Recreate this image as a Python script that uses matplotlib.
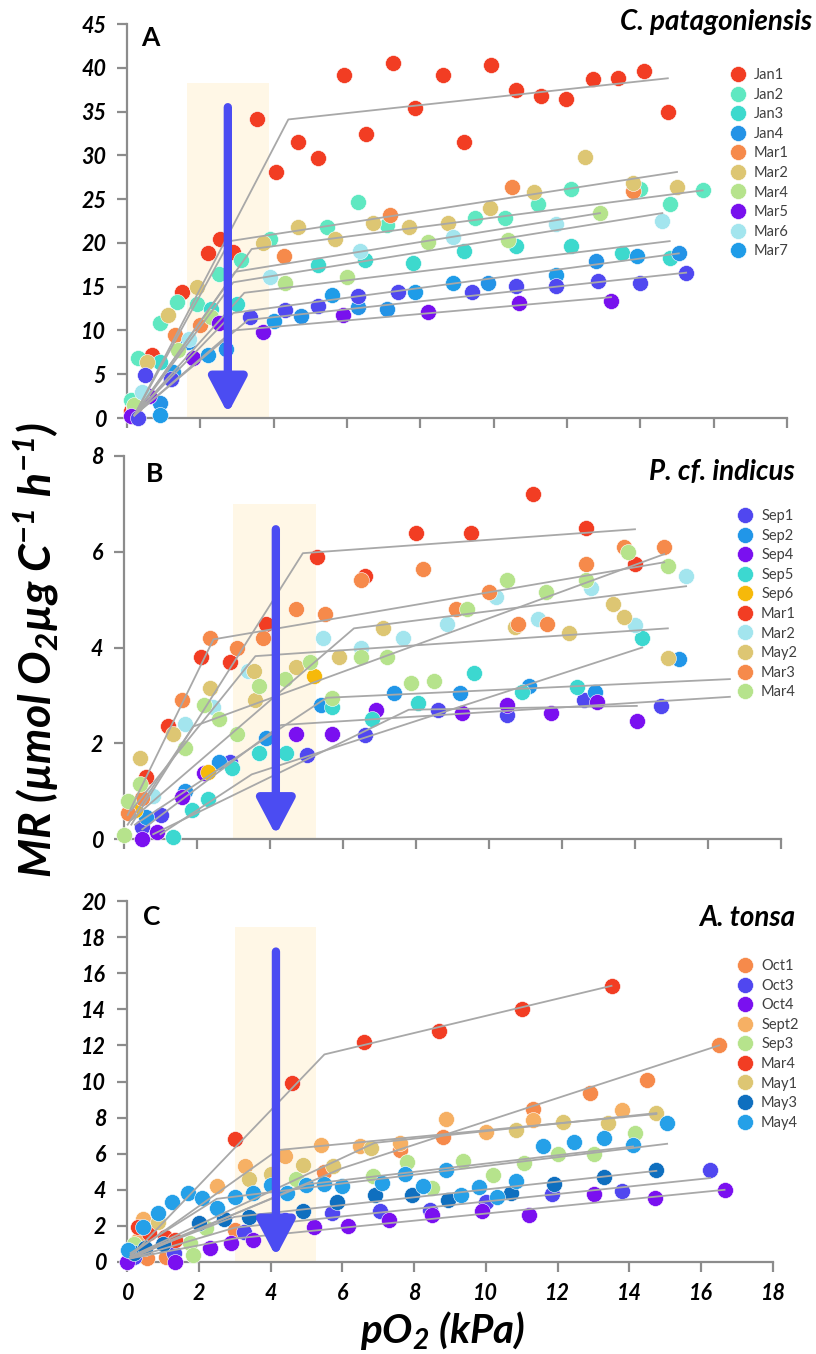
import numpy as np
import matplotlib
matplotlib.use('Agg')
import matplotlib.pyplot as plt

plt.rcParams['font.family'] = ['Lato', 'DejaVu Sans']
plt.rcParams['mathtext.fontset'] = 'custom'
plt.rcParams['mathtext.rm'] = 'Lato:bold:italic'
plt.rcParams['mathtext.it'] = 'Lato:bold:italic'
plt.rcParams['mathtext.bf'] = 'Lato:bold:italic'

# ---- panel A : C. patagoniensis ----
A_labels = ['Jan1', 'Jan2', 'Jan3', 'Jan4', 'Mar1', 'Mar2', 'Mar4', 'Mar5', 'Mar6', 'Mar7']
A_colors = ['#F23D23', '#5FE8C1', '#3DD9CD', '#2493E6', '#F68A4B', '#DDC673', '#B6E38C', '#7810EE', '#A3E5EE', '#1F9CE8']
A_x = [
    [0.1, 0.68, 1.5, 2.2, 2.54, 2.9, 3.54, 4.06, 4.66, 5.2, 5.92, 6.51, 7.26, 7.85, 8.62, 9.2, 9.93, 10.6, 11.3, 11.97, 12.7, 13.4, 14.1, 14.75],
    [0.1, 0.3, 0.9, 1.36, 1.9, 2.5, 3.1, 3.9, 5.45, 6.3, 7.1, 9.5, 10.3, 11.2, 12.1, 14.0, 14.8, 15.7],
    [0.2, 0.9, 2.3, 3.0, 5.2, 6.5, 7.8, 9.2, 10.6, 12.1, 13.5, 14.8],
    [0.9, 1.2, 1.67, 2.7, 4.75, 6.3, 7.1, 9.85, 12.8, 15.05],
    [0.2, 1.3, 2.0, 4.27, 7.17, 10.5, 13.8],
    [0.55, 1.13, 1.9, 3.7, 4.67, 5.67, 6.7, 7.7, 8.75, 9.9, 11.1, 12.5, 13.8, 15.0],
    [0.2, 1.4, 2.3, 4.3, 6.0, 8.2, 10.4, 12.9],
    [0.1, 0.6, 1.8, 2.5, 3.7, 5.9, 8.2, 10.7, 13.2],
    [0.4, 1.7, 3.9, 6.35, 8.9, 11.7, 14.6],
    [0.9, 1.25, 2.2, 4.0, 5.6, 7.85, 8.9, 11.7, 13.9],
]
A_y = [
    [0.8, 7.2, 14.4, 18.8, 20.5, 19.0, 34.2, 28.1, 31.5, 29.7, 39.2, 32.4, 40.6, 35.4, 39.2, 31.5, 40.3, 37.5, 36.8, 36.4, 38.7, 38.8, 39.6, 35.0],
    [2.0, 6.8, 10.8, 13.3, 13.0, 16.5, 18.0, 20.5, 21.8, 24.7, 22.0, 22.8, 22.8, 24.4, 26.1, 26.1, 24.4, 26.0],
    [1.2, 6.4, 12.5, 13.0, 17.5, 18.0, 17.7, 19.1, 19.6, 19.6, 18.9, 18.3],
    [1.7, 4.5, 8.7, 7.9, 11.7, 12.7, 12.4, 15.4, 17.9, 18.8],
    [1.0, 9.5, 10.6, 18.5, 23.2, 26.4, 25.9],
    [6.4, 11.8, 15.0, 20.0, 21.8, 20.4, 22.3, 21.8, 22.3, 24.0, 25.8, 29.8, 26.8, 26.4],
    [1.5, 7.8, 11.5, 15.4, 16.1, 20.1, 20.3, 23.4],
    [0.2, 2.5, 6.8, 10.8, 9.8, 11.8, 12.1, 13.1, 13.4],
    [3.0, 9.0, 16.1, 19.1, 20.7, 22.2, 22.5],
    [0.3, 5.3, 7.2, 11.1, 14.0, 14.4, 15.4, 16.3, 18.5],
]
# series plotted without a legend entry
A_extra_x = [0.3, 0.5, 1.2, 3.35, 4.3, 5.2, 6.3, 7.4, 9.4, 10.6, 11.7, 12.85, 14.0, 15.25]
A_extra_y = [0.0, 4.9, 4.5, 11.5, 12.3, 12.8, 13.9, 14.4, 14.4, 15.1, 15.1, 15.6, 15.4, 16.6]
A_fit_x = [[0.2, 4.4, 14.75], [0.2, 2.8, 15.0], [0.2, 3.4, 15.7], [0.2, 2.95, 12.9], [0.2, 2.9, 14.6],
           [0.2, 3.2, 14.8], [0.2, 2.9, 15.05], [0.2, 3.3, 15.25], [0.2, 2.9, 13.2]]
A_fit_y = [[0.3, 34.1, 38.8], [0.3, 20.2, 28.1], [0.3, 19.3, 26.0], [0.3, 16.7, 23.4], [0.3, 15.5, 23.4],
           [0.3, 14.3, 20.2], [0.3, 12.0, 18.8], [0.3, 11.2, 16.6], [0.3, 10.0, 13.8]]

# ---- panel B : P. cf. indicus ----
B_labels = ['Sep1', 'Sep2', 'Sep4', 'Sep5', 'Sep6', 'Mar1', 'Mar2', 'May2', 'Mar3', 'Mar4']
B_colors = ['#5047F0', '#2196E8', '#7A10F0', '#3CD8D0', '#F6B90A', '#F23D23', '#A3E5EE', '#DDC673', '#F68A4B', '#B6E38C']
B_x = [
    [0.5, 1.0, 2.9, 5.0, 6.6, 8.6, 10.5, 12.6, 14.7],
    [0.6, 1.67, 2.6, 3.9, 5.4, 7.4, 9.2, 11.1, 12.9, 15.2],
    [0.5, 0.9, 1.6, 2.2, 4.7, 5.7, 6.9, 9.25, 10.5, 11.7, 12.95, 14.05],
    [1.35, 1.85, 2.3, 2.95, 3.7, 4.45, 5.7, 6.8, 8.05, 9.6, 10.9, 12.4, 14.2],
    [0.3, 2.3, 5.2],
    [0.6, 1.2, 2.1, 2.9, 3.9, 5.3, 6.6, 8.0, 9.5, 11.2, 12.65, 14.0],
    [0.8, 1.67, 2.45, 3.4, 5.45, 6.5, 7.65, 8.85, 10.2, 11.35, 12.8, 14.0, 15.4],
    [0.45, 1.35, 2.35, 3.55, 3.6, 4.7, 5.9, 7.1, 10.7, 12.2, 13.4, 13.7, 14.9],
    [0.1, 0.5, 1.6, 2.35, 3.1, 3.8, 4.7, 5.5, 6.5, 8.2, 9.1, 10.0, 10.8, 11.6, 12.65, 13.7, 14.8],
    [0.0, 0.1, 0.45, 1.67, 2.2, 2.6, 3.1, 3.7, 4.4, 5.1, 5.7, 6.5, 7.2, 7.85, 8.5, 9.4, 10.5, 11.55, 12.65, 13.8, 14.9],
]
B_y = [
    [0.25, 0.5, 1.6, 1.75, 2.17, 2.7, 2.6, 2.9, 2.78],
    [0.45, 1.0, 1.6, 2.1, 2.8, 3.05, 3.05, 3.2, 3.07, 3.75],
    [0.0, 0.15, 0.88, 1.37, 2.2, 2.2, 2.7, 2.63, 2.8, 2.63, 2.86, 2.46],
    [0.05, 0.6, 0.83, 1.48, 1.8, 1.8, 2.75, 2.5, 2.84, 3.47, 3.07, 3.17, 4.2],
    [0.6, 1.4, 3.4],
    [1.3, 2.35, 3.8, 3.7, 4.5, 5.9, 5.5, 6.4, 6.4, 7.2, 6.5, 5.75],
    [0.9, 2.4, 2.75, 3.5, 4.2, 4.0, 4.2, 4.5, 5.05, 4.6, 5.25, 4.47, 5.5],
    [1.7, 2.2, 3.15, 3.5, 2.9, 3.6, 3.8, 4.4, 4.43, 4.3, 4.9, 4.63, 3.78],
    [0.55, 0.85, 2.9, 4.2, 4.0, 4.2, 4.8, 4.7, 5.4, 5.65, 4.8, 5.15, 4.5, 4.5, 5.75, 6.1, 6.1],
    [0.08, 0.8, 1.15, 1.9, 2.8, 2.5, 2.2, 3.2, 3.35, 3.7, 2.95, 3.8, 3.8, 3.25, 3.3, 4.8, 5.4, 5.15, 5.4, 6.0, 5.7],
]
B_fit_x = [[0.2, 4.9, 14.0], [0.1, 2.45, 14.8], [0.1, 1.9, 14.8], [0.2, 6.3, 15.4], [0.2, 3.6, 14.9],
           [1.0, 3.5, 14.2], [0.3, 5.55, 16.6], [0.5, 4.3, 16.6], [0.8, 7.8, 14.05]]
B_fit_y = [[0.3, 5.97, 6.47], [0.5, 4.17, 5.78], [0.3, 2.35, 5.95], [0.4, 4.4, 5.28], [0.6, 3.82, 4.4],
           [0.1, 1.35, 4.0], [0.3, 2.95, 3.34], [0.2, 2.38, 2.97], [0.1, 2.7, 2.78]]

# ---- panel C : A. tonsa ----
C_labels = ['Oct1', 'Oct3', 'Oct4', 'Sept2', 'Sep3', 'Mar4', 'May1', 'May3', 'May4']
C_colors = ['#F68A4B', '#5047F0', '#7A10F0', '#F6B064', '#B6E38C', '#F23D23', '#DDC673', '#0F6FBF', '#25A0E8']
C_x = [
    [0.55, 1.1, 3.0, 5.5, 7.6, 8.8, 11.3, 12.9, 14.5, 16.5],
    [0.2, 1.3, 3.25, 4.4, 5.7, 7.05, 8.45, 10.0, 11.85, 13.8, 16.25],
    [0.0, 1.35, 2.3, 2.9, 3.5, 5.2, 6.15, 7.3, 8.5, 9.9, 11.2, 13.0, 14.7, 16.65],
    [0.3, 0.45, 2.5, 3.3, 4.4, 5.4, 6.5, 7.6, 8.9, 10.0, 11.3, 13.8],
    [0.2, 1.75, 1.85, 2.2, 4.7, 6.85, 7.8, 8.5, 9.35, 10.2, 11.05, 12.0, 13.0, 14.15],
    [0.3, 0.6, 1.05, 1.35, 3.0, 4.6, 6.6, 8.7, 11.0, 13.5],
    [0.86, 3.4, 4.0, 4.9, 5.75, 6.8, 10.85, 12.15, 13.4, 14.75],
    [0.2, 0.5, 1.0, 2.0, 2.7, 3.4, 4.1, 4.9, 5.85, 6.9, 7.95, 8.95, 10.7, 11.9, 13.3, 14.75],
    [0.03, 0.45, 0.86, 1.25, 1.7, 2.1, 2.5, 3.0, 3.5, 4.0, 4.45, 5.0, 5.5, 6.0, 7.1, 7.75, 8.25, 8.9, 9.3,
     9.8, 10.3, 10.85, 11.6, 12.45, 13.3, 14.1, 15.05],
]
C_y = [
    [0.2, 0.3, 1.8, 5.0, 6.2, 6.95, 8.5, 9.35, 10.1, 12.0],
    [0.3, 0.5, 1.65, 2.35, 2.7, 2.8, 2.9, 3.3, 3.75, 3.95, 5.1],
    [0.0, 0.0, 0.8, 1.05, 1.2, 1.95, 2.0, 2.3, 2.6, 2.85, 2.6, 3.75, 3.55, 4.0],
    [1.2, 2.4, 4.2, 5.3, 5.9, 6.5, 6.4, 6.6, 7.9, 7.2, 7.85, 8.4],
    [1.0, 1.05, 0.4, 1.9, 4.6, 4.75, 5.55, 4.1, 5.6, 4.8, 5.5, 6.0, 6.0, 7.15],
    [1.95, 1.6, 1.4, 1.2, 6.8, 9.9, 12.2, 12.8, 14.0, 15.3],
    [2.2, 4.6, 4.9, 5.4, 5.3, 6.3, 7.3, 7.75, 7.7, 8.25],
    [0.5, 0.8, 1.0, 2.15, 2.4, 2.5, 2.4, 2.8, 3.3, 3.7, 3.7, 3.45, 3.8, 4.3, 4.7, 5.1],
    [0.65, 1.95, 2.7, 3.3, 3.8, 3.55, 3.0, 3.6, 3.8, 4.25, 3.8, 4.25, 4.3, 4.2, 4.4, 4.9, 4.2, 5.1, 3.7,
     4.15, 3.6, 4.5, 6.4, 6.65, 6.85, 6.5, 7.7],
]
C_fit_x = [[0.1, 5.5, 13.5], [0.1, 6.0, 16.5], [0.1, 4.2, 14.75], [0.1, 6.9, 14.75], [0.1, 5.0, 14.1],
           [0.1, 2.5, 15.05], [0.1, 3.0, 14.75], [0.1, 3.0, 16.25], [0.1, 3.0, 16.65]]
C_fit_y = [[0.3, 11.5, 15.3], [0.2, 5.2, 12.0], [0.4, 6.2, 8.2], [0.3, 6.6, 8.25], [0.3, 4.3, 6.4],
           [0.5, 3.5, 6.55], [0.3, 2.5, 5.05], [0.2, 1.9, 4.65], [0.2, 1.3, 4.0]]

# critical pO2 band (x range, top) and arrow (x, top, tip) per panel
bands = [(1.64, 3.87, 38.3), (2.99, 5.26, 7.0), (3.0, 5.26, 18.56)]
arrows = [(2.75, 35.5, 0.5), (4.16, 6.47, 0.08), (4.15, 17.2, 0.3)]
ylims = [(0, 45, 5), (0, 8, 2), (0, 20, 2)]
species = ['C. patagoniensis', 'P. cf. indicus', 'A. tonsa']
letters = ['A', 'B', 'C']

W, H = 816, 1354


def px(x, y):
    return x / W, 1 - y / H


fig = plt.figure(figsize=(W / 100, H / 100), dpi=100)
boxes = [(127, 787, 24, 418), (124, 781, 456, 839), (127, 773, 901, 1262)]
axes = []
for (l, r, t, b) in boxes:
    axes.append(fig.add_axes([l / W, 1 - b / H, (r - l) / W, (b - t) / H]))

panels = [
    (A_labels, A_colors, A_x, A_y, A_fit_x, A_fit_y),
    (B_labels, B_colors, B_x, B_y, B_fit_x, B_fit_y),
    (C_labels, C_colors, C_x, C_y, C_fit_x, C_fit_y),
]
legend_pos = [(722, 61), (729, 502), (729, 952)]
species_pos = [(812, 22), (795, 472), (795, 918)]
letter_pos = [(141, 38), (146, 474), (143, 917)]
ms = 11.5
line_col = '#A8A8A8'
arrow_col = '#4B4CF2'
tick_font = dict(fontsize=15.5, fontweight='bold', fontstyle='italic')

for i, ax in enumerate(axes):
    labels, colors, xs, ys, fx, fy = panels[i]
    x0, x1, top = bands[i]
    ax.fill_between([x0, x1], 0, top, color='#FFF7E6', lw=0, zorder=0)
    for lab, col, x, y in zip(labels, colors, xs, ys):
        ax.plot(x, y, 'o', ms=ms, color=col, mec='white', mew=0.4, label=lab, clip_on=False, zorder=3)
    if i == 0:
        ax.plot(A_extra_x, A_extra_y, 'o', ms=ms, color='#5048F0', mec='white', mew=0.4, clip_on=False, zorder=3)
    for x, y in zip(fx, fy):
        ax.plot(x, y, '-', color=line_col, lw=1.3, zorder=4, clip_on=False)
    ax_x, a_top, a_tip = arrows[i]
    ax.annotate('', xy=(ax_x, a_tip), xytext=(ax_x, a_top),
                arrowprops=dict(arrowstyle='-|>,head_length=1.8,head_width=0.95', lw=6, color=arrow_col,
                                mutation_scale=12, shrinkA=0, shrinkB=0), zorder=6)

    lo, hi, step = ylims[i]
    ax.set_ylim(lo, hi)
    ax.set_xlim(0, 18)
    ax.set_yticks(np.arange(lo, hi + step / 2, step))
    ax.set_xticks(np.arange(0, 19, 2))
    for s in ['top', 'right']:
        ax.spines[s].set_visible(False)
    for s in ['left', 'bottom']:
        ax.spines[s].set_color('#8C8C8C')
        ax.spines[s].set_linewidth(1.6)
    ax.tick_params(axis='both', direction='out', length=7, width=1.6, color='#8C8C8C', pad=8)
    ax.set_yticks(ax.get_yticks(), [f'{v:g}' for v in ax.get_yticks()], **tick_font)
    if i < 2:
        ax.set_xticklabels([])
    else:
        ax.set_xticks(ax.get_xticks(), [f'{v:g}' for v in ax.get_xticks()], **tick_font)

    lx, ly = px(*legend_pos[i])
    ax.legend(loc='upper left', bbox_to_anchor=(lx, ly), bbox_transform=fig.transFigure, frameon=False,
              fontsize=10.5, handlelength=1.2, handletextpad=0.5, labelspacing=0.38, borderpad=0,
              labelcolor='#404040', markerscale=1.0)

    sx, sy = px(*species_pos[i])
    fig.text(sx, sy, species[i], ha='right', va='center', fontsize=20, fontweight='bold', fontstyle='italic')
    tx, ty = px(*letter_pos[i])
    fig.text(tx, ty, letters[i], ha='left', va='center', fontsize=19, fontweight='bold')

yx, yy = px(36, 650)
fig.text(yx, yy, r'MR (µmol O$_2$µg C$^{-1}$ h$^{-1}$)', rotation=90, ha='center', va='center',
         fontsize=32, fontweight='bold', fontstyle='italic')
xx, xy = px(443, 1343)
fig.text(xx, xy, r'pO$_2$ (kPa)', ha='center', va='baseline', fontsize=29, fontweight='bold', fontstyle='italic')

fig.savefig('out.png', dpi=100)
